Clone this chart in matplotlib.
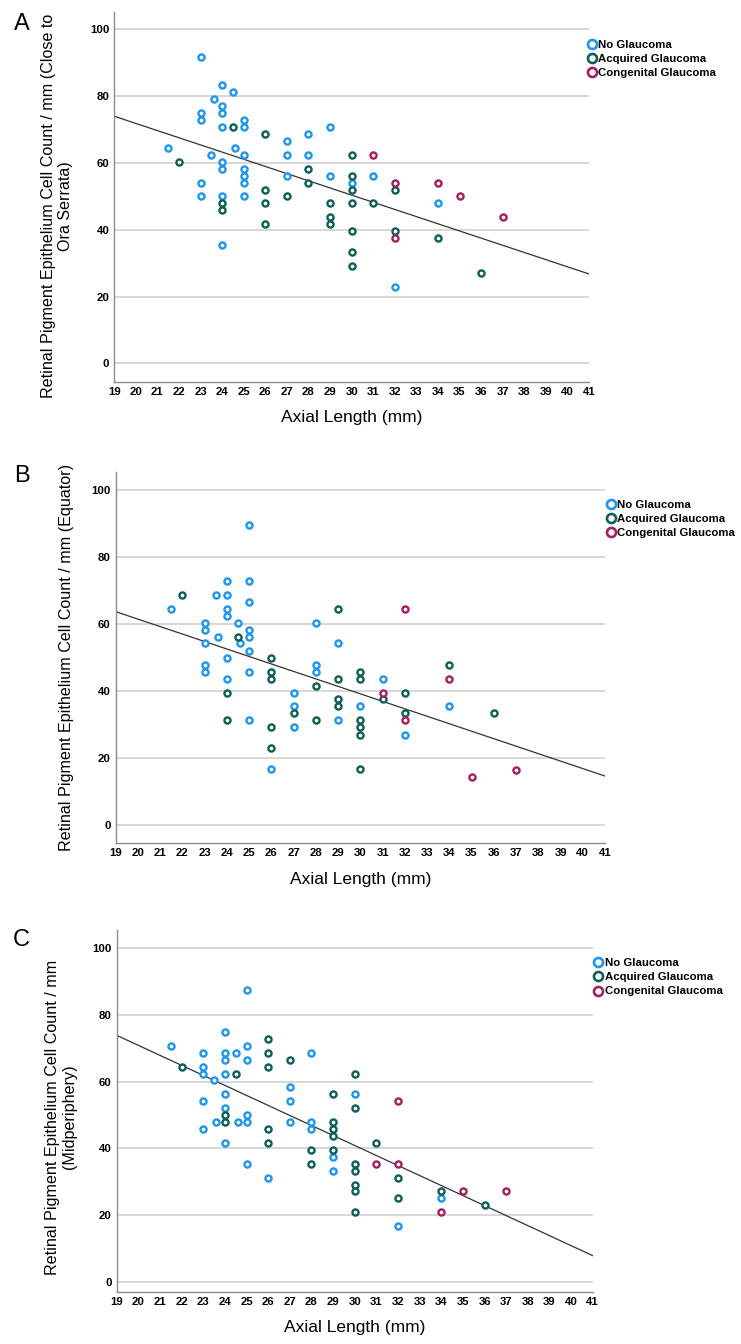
import matplotlib
matplotlib.use('Agg')
import matplotlib.pyplot as plt
from matplotlib.lines import Line2D

plt.rcParams['font.family'] = ['Liberation Sans', 'DejaVu Sans']

groups = ['No Glaucoma', 'Acquired Glaucoma', 'Congenital Glaucoma']
colors = ['#1e96ee', '#0d5f57', '#a81d5c']

# Panel A: close to ora serrata
a_no_x = [23, 24, 24.5, 23.6, 24, 24, 23, 23, 25, 24, 25, 29, 27, 28, 21.5, 24.6, 23.5, 25, 27, 28,
          24, 24, 25, 25, 27, 29, 31, 25, 23, 30, 23, 24, 25, 34, 24, 32]
a_no_y = [91.7, 83.3, 81.3, 79.2, 77.1, 75, 75, 72.9, 72.9, 70.8, 70.8, 70.8, 66.7, 68.7, 64.6, 64.6, 62.5, 62.5, 62.5, 62.5,
          60.3, 58.3, 58.3, 56.2, 56.2, 56.2, 56.2, 54.1, 54.1, 54.1, 50, 50, 50, 47.9, 35.4, 22.9]
a_acq_x = [24.5, 26, 30, 22, 28, 30, 28, 30, 26, 32, 27, 24, 26, 29, 30, 31, 24, 29, 29, 26, 30, 32, 34, 30, 30, 36]
a_acq_y = [70.8, 68.7, 62.5, 60.3, 58.3, 56.2, 54.1, 52, 52, 52, 50, 47.9, 47.9, 47.9, 47.9, 47.9, 45.8, 43.8, 41.7, 41.7,
           39.6, 39.6, 37.5, 33.4, 29.2, 27.1]
a_con_x = [31, 32, 34, 35, 37, 32]
a_con_y = [62.4, 54.1, 54.1, 50, 43.8, 37.5]
a_fit = [74.0, 26.8]

# Panel B: equator
b_no_x = [25, 24, 25, 23.5, 24, 25, 21.5, 24, 24, 23, 24.5, 28, 23, 25, 23.6, 25, 23, 24.6, 29, 25,
          24, 23, 28, 23, 25, 28, 24, 31, 27, 27, 30, 34, 25, 29, 27, 32, 26]
b_no_y = [89.5, 72.9, 72.9, 68.7, 68.7, 66.6, 64.5, 64.5, 62.5, 60.4, 60.4, 60.4, 58.3, 58.3, 56.2, 56.2, 54.2, 54.2, 54.2, 52,
          50, 47.9, 47.9, 45.8, 45.8, 45.8, 43.7, 43.7, 39.5, 35.4, 35.4, 35.4, 31.2, 31.2, 29.1, 27, 16.6]
b_acq_x = [22, 29, 24.5, 26, 26, 26, 29, 30, 30, 28, 24, 32, 31, 29, 29, 27, 32, 36, 34, 24, 28, 30, 30, 30, 26, 26, 30]
b_acq_y = [68.7, 64.5, 56.2, 50, 45.8, 43.7, 43.7, 45.8, 43.7, 41.6, 39.5, 39.5, 37.5, 37.5, 35.4, 33.3, 33.3, 33.3, 47.9,
           31.2, 31.2, 31.2, 29.1, 27, 29.1, 22.9, 16.6]
b_con_x = [32, 34, 31, 32, 35, 37]
b_con_y = [64.5, 43.7, 39.5, 31.2, 14.4, 16.5]
b_fit = [63.7, 14.6]

# Panel C: midperiphery
c_no_x = [25, 24, 21.5, 25, 23, 24, 24.5, 28, 24, 25, 23, 23, 24, 23.5, 27, 24, 30, 23, 27, 24,
          25, 23.6, 24.6, 25, 27, 28, 23, 28, 24, 29, 25, 29, 26, 34, 32]
c_no_y = [87.6, 75.0, 70.8, 70.8, 68.7, 68.7, 68.7, 68.7, 66.6, 66.6, 64.5, 62.4, 62.4, 60.4, 58.3, 56.2, 56.2, 54.1, 54.1, 52.1,
          50, 47.9, 47.9, 47.9, 47.9, 47.9, 45.9, 45.9, 41.7, 37.5, 35.5, 33.4, 31.3, 25.1, 16.8]
c_acq_x = [26, 26, 27, 22, 26, 24.5, 30, 29, 30, 24, 24, 29, 26, 29, 29, 26, 31, 28, 29, 28, 30, 30, 32, 30, 30, 34, 32, 36, 30]
c_acq_y = [72.9, 68.7, 66.6, 64.5, 64.5, 62.4, 62.4, 56.2, 52.1, 50, 47.9, 47.9, 45.9, 45.9, 43.8, 41.7, 41.7, 39.6, 39.6,
           35.5, 35.5, 33.4, 31.3, 29.2, 27.2, 27.2, 25.1, 23, 21]
c_con_x = [32, 31, 32, 35, 37, 34]
c_con_y = [54.1, 35.5, 35.5, 27.2, 27.2, 20.9]
c_fit = [73.9, 7.9]

x_ticks = list(range(19, 42))
y_ticks = [0, 20, 40, 60, 80, 100]
fit_x = [19, 41]

W, H = 741, 1344
fig = plt.figure(figsize=(W / 100, H / 100), dpi=100)


def px_axes(left, top, right, bottom):
    return fig.add_axes([left / W, 1 - bottom / H, (right - left) / W, (bottom - top) / H])


panels = [
    dict(box=(114.3, 11.7, 589, 381.7), ylim=(-5.45, 105.3), letter='A', lpos=(22, 23.5),
         ylabel='Retinal Pigment Epithelium Cell Count / mm (Close to\nOra Serrata)', ylab=(57, 0.475),
         data=[(a_no_x, a_no_y), (a_acq_x, a_acq_y), (a_con_x, a_con_y)], fit=a_fit, leg=(592.7, 45)),
    dict(box=(115.7, 471.7, 605, 843), ylim=(-5.4, 105.5), letter='B', lpos=(22, 476),
         ylabel='Retinal Pigment Epithelium Cell Count / mm (Equator)', ylab=(66, 0.5),
         data=[(b_no_x, b_no_y), (b_acq_x, b_acq_y), (b_con_x, b_con_y)], fit=b_fit, leg=(611.5, 504.7)),
    dict(box=(116.7, 930, 592.7, 1291.7), ylim=(-2.9, 105.45), letter='C', lpos=(21.5, 940),
         ylabel='Retinal Pigment Epithelium Cell Count / mm\n(Midperiphery)', ylab=(61, 0.483),
         data=[(c_no_x, c_no_y), (c_acq_x, c_acq_y), (c_con_x, c_con_y)], fit=c_fit, leg=(599.3, 963.3)),
]

for p in panels:
    left, top, right, bottom = p['box']
    ax = px_axes(left, top, right, bottom)
    ax.set_xlim(19, 41)
    ax.set_ylim(*p['ylim'])
    ax.set_xticks(x_ticks)
    ax.set_yticks(y_ticks)
    ax.grid(axis='y', color='#d4d4d4', lw=1.3)
    ax.set_axisbelow(True)
    for s in ['top', 'right']:
        ax.spines[s].set_visible(False)
    for s in ['left', 'bottom']:
        ax.spines[s].set_color('#8c8c8c')
        ax.spines[s].set_linewidth(1.0)
    ax.tick_params(length=0, labelsize=8.2, pad=3.5)
    for t in ax.get_xticklabels() + ax.get_yticklabels():
        t.set_fontweight('bold')

    for (xs, ys), c in zip(p['data'], colors):
        ax.plot(xs, ys, 'o', ls='none', ms=4.4, mfc='white', mec=c, mew=1.7, zorder=3)
    ax.plot(fit_x, p['fit'], color='#333333', lw=0.9, zorder=2)

    ax.set_xlabel('Axial Length (mm)', fontsize=12.5, labelpad=10)
    ax.set_ylabel(p['ylabel'], fontsize=11.6, linespacing=1.1)
    ax.yaxis.label.set_verticalalignment('center')
    ax.yaxis.set_label_coords((p['ylab'][0] - left) / (right - left), p['ylab'][1])

    fig.text(p['lpos'][0] / W, 1 - p['lpos'][1] / H, p['letter'], fontsize=17,
             ha='center', va='center')

    handles = [Line2D([], [], marker='o', ls='none', ms=6.5, mfc='white', mec=c, mew=1.9)
               for c in colors]
    lx, ly = p['leg']
    fig.legend(handles, groups, loc='upper left',
               bbox_to_anchor=((lx - 6) / W, 1 - (ly - 5) / H),
               frameon=False, prop={'weight': 'bold', 'size': 8.2},
               handlelength=0.9, handletextpad=0.1, labelspacing=0.36,
               borderpad=0, borderaxespad=0)

fig.savefig('out.png', dpi=100)
